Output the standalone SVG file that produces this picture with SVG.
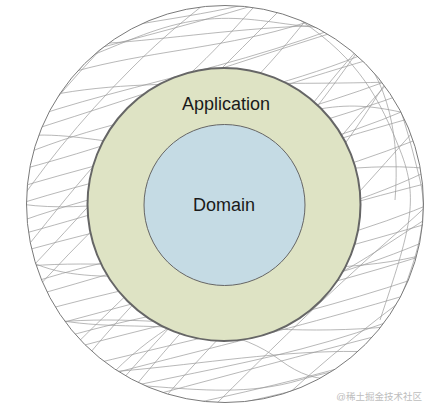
<svg xmlns="http://www.w3.org/2000/svg" width="434" height="414" viewBox="0 0 434 414">
<style>
.sc{fill:none;stroke:#999999;stroke-width:0.7}
.lbl{font-family:"Liberation Sans",Arial,sans-serif;font-size:18px;fill:#1a1a1a;text-anchor:middle}
</style>
<defs>
<clipPath id="ring"><circle cx="225" cy="204" r="198.5"/></clipPath>
</defs>
<rect width="434" height="414" fill="#ffffff"/>
<g id="outer">
<g clip-path="url(#ring)">
<path class="sc" d="M10 60 C140 0,280 40,440 -90"/>
<path class="sc" d="M10 95 C150 30,290 70,440 -50"/>
<path class="sc" d="M10 125 C130 80,300 60,440 -20"/>
<path class="sc" d="M10 160 C150 100,260 110,440 20"/>
<path class="sc" d="M10 190 C140 150,300 120,440 60"/>
<path class="sc" d="M10 225 C160 170,280 170,440 95"/>
<path class="sc" d="M10 255 C130 220,300 190,440 130"/>
<path class="sc" d="M10 290 C150 240,290 240,440 165"/>
<path class="sc" d="M10 320 C140 280,300 260,440 200"/>
<path class="sc" d="M10 355 C160 300,270 310,440 235"/>
<path class="sc" d="M10 385 C140 350,300 320,440 270"/>
<path class="sc" d="M10 420 C150 370,290 370,440 300"/>
<path class="sc" d="M10 450 C130 410,300 390,440 335"/>
<path class="sc" d="M10 480 C160 430,280 430,440 370"/>
<path class="sc" d="M10 510 C150 470,290 450,440 400"/>
<path class="sc" d="M0 75 C120 40,270 10,440 -60"/>
<path class="sc" d="M0 140 C130 100,270 50,440 0"/>
<path class="sc" d="M0 175 C140 140,250 90,440 40"/>
<path class="sc" d="M0 210 C120 170,290 140,440 80"/>
<path class="sc" d="M0 240 C150 200,260 160,440 110"/>
<path class="sc" d="M0 305 C130 270,280 220,440 180"/>
<path class="sc" d="M0 340 C140 300,270 270,440 220"/>
<path class="sc" d="M0 370 C120 330,290 300,440 250"/>
<path class="sc" d="M0 405 C150 360,260 340,440 285"/>
<path class="sc" d="M0 435 C140 400,280 360,440 320"/>
<path class="sc" d="M0 465 C130 420,290 400,440 350"/>
<path class="sc" d="M0 40 C120 60,250 10,440 30"/>
<path class="sc" d="M0 110 C100 70,250 90,440 80"/>
<path class="sc" d="M0 200 C120 230,300 150,440 170"/>
<path class="sc" d="M0 330 C150 300,260 350,440 320"/>
<path class="sc" d="M0 370 C120 390,300 330,440 360"/>
<path class="sc" d="M0 270 C100 250,320 290,440 250"/>
<path class="sc" d="M40 420 C120 300,200 250,300 120 S400 20,420 -10"/>
<path class="sc" d="M80 430 C160 330,240 260,330 150 S420 60,440 30"/>
<path class="sc" d="M130 440 C200 350,280 280,370 180 S440 100,460 70"/>
<path class="sc" d="M180 440 C250 370,320 300,400 230 S460 160,480 130"/>
<path class="sc" d="M240 440 C300 380,360 330,430 280"/>
<path class="sc" d="M0 330 C60 260,120 200,190 140 S290 40,330 -10"/>
<path class="sc" d="M0 280 C50 220,100 150,160 100 S240 20,270 -10"/>
<path class="sc" d="M0 230 C40 170,80 120,130 70 S200 10,220 -10"/>
<path class="sc" d="M-10 180 C30 130,70 80,110 40 S160 0,180 -10"/>
<path class="sc" d="M20 400 C90 330,150 270,220 210 S330 90,380 20"/>
<path class="sc" d="M100 430 C170 340,230 280,300 200 S380 80,420 40"/>
<path class="sc" d="M0 300 C60 240,110 180,170 120 S260 30,300 -10"/>
<path class="sc" d="M270 430 C330 390,380 350,440 320"/>
<path class="sc" d="M340 430 C370 400,400 380,440 350"/>
<path class="sc" d="M0 60 C60 90,120 30,200 20 S320 50,440 10"/>
<path class="sc" d="M0 140 C80 120,150 170,250 130 S380 110,440 120"/>
<path class="sc" d="M0 240 C60 300,150 260,220 290 S360 260,440 210"/>
<path class="sc" d="M0 300 C90 350,200 300,280 360 S400 320,440 280"/>
<path class="sc" d="M0 400 C100 360,200 410,300 380 S400 390,440 370"/>
<path class="sc" d="M60 440 C100 380,140 340,200 310"/>
<path class="sc" d="M380 60 C400 100,410 140,420 180 S415 260,400 300"/>
<path class="sc" d="M350 40 C390 80,400 140,395 200"/>
<path class="sc" d="M300 20 C360 60,380 100,400 150 S410 230,380 320"/>
</g>
<circle cx="225" cy="204" r="198.5" fill="none" stroke="#7a7a7a" stroke-width="1"/>
</g>
<g id="application">
<circle cx="224" cy="204.5" r="136.5" fill="#dee3c4" stroke="#666666" stroke-width="2"/>
<text class="lbl" x="226" y="110">Application</text>
</g>
<g id="domain">
<circle cx="224.5" cy="205" r="80.5" fill="#c5dbe4" stroke="#666666" stroke-width="1"/>
<text class="lbl" x="224" y="211">Domain</text>
</g>
<text x="422" y="400" font-family="'Liberation Sans','Noto Sans CJK SC',sans-serif" font-size="9.5" fill="#bdbdbd" text-anchor="end">@稀土掘金技术社区</text>
</svg>
